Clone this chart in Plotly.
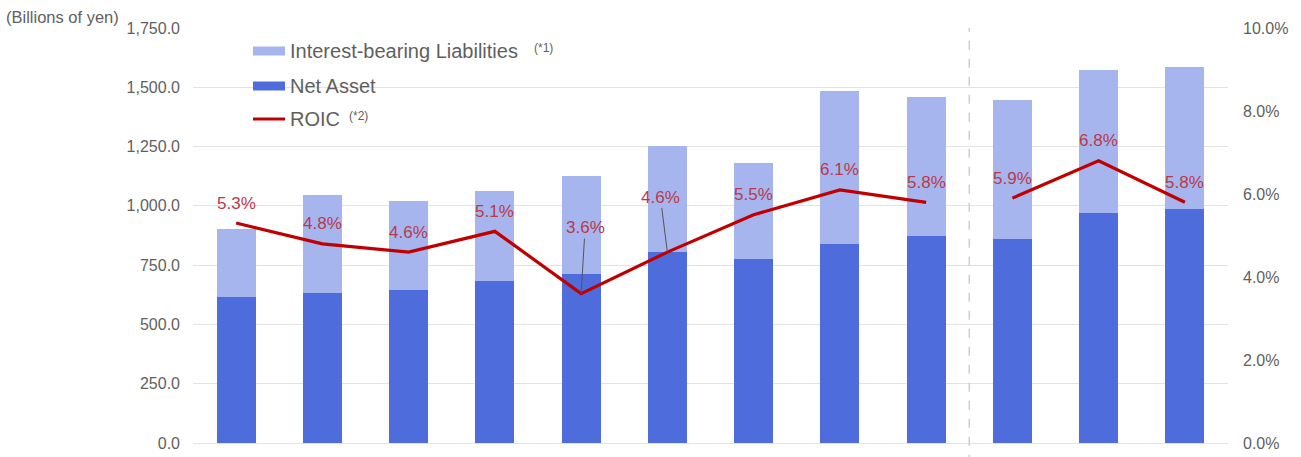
import plotly.graph_objects as go

# ---- data ----
categories = ["P01", "P02", "P03", "P04", "P05", "P06", "P07", "P08", "P09", "P10", "P11", "P12"]
net_asset = [617, 631, 645, 683, 711, 807, 776, 838, 872, 861, 968, 987]
interest_bearing = [286, 415, 376, 380, 416, 446, 406, 648, 588, 587, 603, 600]
roic = [5.3, 4.8, 4.6, 5.1, 3.6, 4.6, 5.5, 6.1, 5.8, 5.9, 6.8, 5.8]
split_index = 9  # ROIC line is broken between the 9th and 10th categories
left_ticks = [0, 250, 500, 750, 1000, 1250, 1500, 1750]
right_ticks = [0, 2, 4, 6, 8, 10]

# ---- styles ----
LIGHT = "#A6B5EE"
DARK = "#4E6CDB"
RED = "#C00000"
LABEL_RED = "#B8394A"
GRID = "#E3E3E3"
TXT = "#5F5F5F"
FONT = "Liberation Sans, Arial, sans-serif"

W, H = 1301, 457
ML, MR, MT, MB = 193, 73, 28, 14
PW, PH = W - ML - MR, H - MT - MB


def px_x(x):
    return (x - ML) / PW


def px_y(y):
    return (H - MB - y) / PH


fig = go.Figure()
fig.add_trace(go.Bar(x=categories, y=net_asset, marker_color=DARK, marker_line_width=0,
                     name="Net Asset", showlegend=False))
fig.add_trace(go.Bar(x=categories, y=interest_bearing, marker_color=LIGHT, marker_line_width=0,
                     name="Interest-bearing Liabilities", showlegend=False))
fig.add_trace(go.Scatter(x=categories[:split_index], y=roic[:split_index], yaxis="y2",
                         mode="lines", line=dict(color=RED, width=3.2), showlegend=False))
fig.add_trace(go.Scatter(x=categories[split_index:], y=roic[split_index:], yaxis="y2",
                         mode="lines", line=dict(color=RED, width=3.2), showlegend=False))

# data labels
leaders = {4: (4, -66), 5: (-7, -55)}
annotations = []
for i, (c, v) in enumerate(zip(categories, roic)):
    if i in leaders:
        ax, ay = leaders[i]
        annotations.append(dict(x=c, y=v, xref="x", yref="y2", text=f"{v:.1f}%",
                                showarrow=True, arrowhead=0, arrowwidth=1, arrowcolor="#555555",
                                ax=ax, ay=ay, standoff=0,
                                font=dict(size=17, color=LABEL_RED, family=FONT)))
    else:
        annotations.append(dict(x=c, y=v, xref="x", yref="y2", text=f"{v:.1f}%",
                                showarrow=False, yshift=20,
                                font=dict(size=17, color=LABEL_RED, family=FONT)))

# unit label
annotations.append(dict(x=px_x(4), y=px_y(17), xref="paper", yref="paper", text="(Billions of yen)",
                        showarrow=False, xanchor="left", yanchor="middle",
                        font=dict(size=16.5, color=TXT, family=FONT)))

# custom legend
shapes = []
shapes.append(dict(type="rect", xref="paper", yref="paper", x0=px_x(213), x1=px_x(562),
                   y0=px_y(140), y1=px_y(33), fillcolor="white", line_width=0, layer="below"))
legend_rows = [("Interest-bearing Liabilities", "(*1)", 532, "bar", LIGHT, 51),
               ("Net Asset", "", 0, "bar", DARK, 86),
               ("ROIC", "(*2)", 347, "line", RED, 119)]
for name, note, note_x, kind, color, yc in legend_rows:
    if kind == "bar":
        shapes.append(dict(type="rect", xref="paper", yref="paper", x0=px_x(253), x1=px_x(285),
                           y0=px_y(yc + 4.5), y1=px_y(yc - 4.5), fillcolor=color, line_width=0))
    else:
        shapes.append(dict(type="line", xref="paper", yref="paper", x0=px_x(253), x1=px_x(285),
                           y0=px_y(yc), y1=px_y(yc), line=dict(color=color, width=3)))
    annotations.append(dict(x=px_x(288), y=px_y(yc), xref="paper", yref="paper", text=name,
                            showarrow=False, xanchor="left", yanchor="middle",
                            font=dict(size=20, color=TXT, family=FONT)))
    if note:
        annotations.append(dict(x=px_x(note_x), y=px_y(yc - 3), xref="paper", yref="paper",
                                text=note, showarrow=False, xanchor="left", yanchor="middle",
                                font=dict(size=12, color=TXT, family=FONT)))

# dashed separator between 9th and 10th categories
shapes.append(dict(type="line", xref="x", yref="paper", x0=split_index - 0.5, x1=split_index - 0.5,
                   y0=-0.05, y1=1, line=dict(color="#CFCFCF", width=1.5, dash="dash")))

fig.update_layout(
    width=W, height=H,
    margin=dict(l=ML, r=MR, t=MT, b=MB, pad=0, autoexpand=False),
    barmode="stack", bargap=0.55,
    plot_bgcolor="white", paper_bgcolor="white",
    showlegend=False,
    font=dict(family=FONT, color=TXT),
    xaxis=dict(type="category", showticklabels=False, showgrid=False, zeroline=False,
               showline=False, ticks="", range=[-0.5, len(categories) - 0.5], automargin=False),
    yaxis=dict(range=[0, 1750], tickvals=left_ticks, tickformat=",.1f", showgrid=True,
               gridcolor=GRID, gridwidth=1, zeroline=True, zerolinecolor=GRID, zerolinewidth=1,
               showline=False, ticks="", ticklabelstandoff=12, automargin=False,
               tickfont=dict(size=16, color=TXT, family=FONT)),
    yaxis2=dict(range=[0, 10], overlaying="y", side="right", tickvals=right_ticks,
                ticktext=[f"{v:.1f}%" for v in right_ticks], showgrid=False, zeroline=False,
                showline=False, ticks="", ticklabelstandoff=14, automargin=False,
                tickfont=dict(size=16, color=TXT, family=FONT)),
    annotations=annotations,
    shapes=shapes,
)

fig.write_html("out.html")
